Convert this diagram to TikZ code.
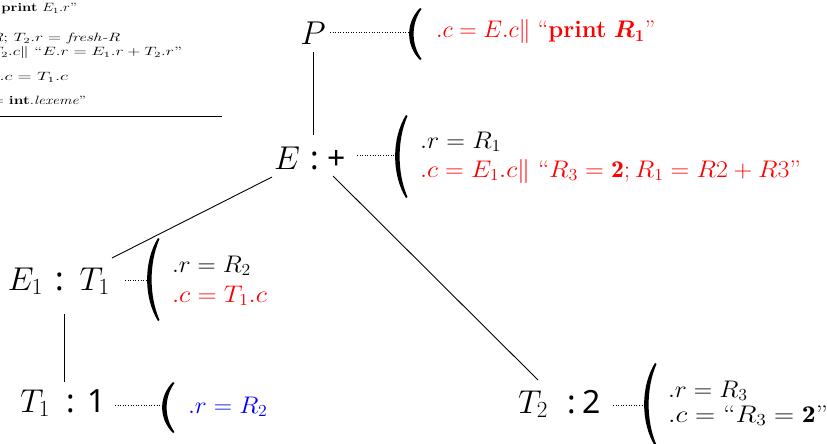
\RequirePackage{fix-cm}
\documentclass[tikz,border=0pt]{standalone}
\usepackage{fontspec}
\usepackage{bm}
\usetikzlibrary{calc}
\newfontfamily\labsans{Noto Sans}
\definecolor{annred}{RGB}{255,0,0}
\definecolor{annblue}{RGB}{0,0,255}
\newcommand{\drawparen}[3]{%
  \fill ({#1+13},{#2}) .. controls ({#1-1.5},{#2+0.28*(#3-#2)}) and ({#1-1.5},{#3-0.28*(#3-#2)}) .. ({#1+13},{#3})
    -- ({#1+14.5},{#3-1}) .. controls ({#1+4},{#3-0.3*(#3-#2)}) and ({#1+4},{#2+0.3*(#3-#2)}) .. ({#1+14.5},{#2+1}) -- cycle;}
\newcommand{\wide}[2]{\scalebox{#1}[1]{#2}}
\tikzset{
  lab/.style={font=\fontsize{33}{37}\selectfont, inner sep=0pt, outer sep=0pt, anchor=base west},
  ann/.style={font=\fontsize{24}{28}\selectfont, inner sep=0pt, outer sep=0pt, anchor=base west},
  tabtxt/.style={font=\fontsize{12}{14}\selectfont, inner sep=0pt, outer sep=0pt, anchor=base east},
  edgeline/.style={line width=0.9pt},
  dotline/.style={line width=0.9pt, dash pattern=on 0.9pt off 1.7pt},
}
\begin{document}
\begin{tikzpicture}[x=1pt,y=-1pt]
\useasboundingbox (0,0) rectangle (827,444);
\clip (0,0) rectangle (827,444);
\fill[white] (0,0) rectangle (827,444);

% cropped table fragment, top left
\node[tabtxt] (tb1) at (77,12) {\wide{1.24}{\textbf{print} $E_1.r$”}};
\node[tabtxt] (tb2) at (120,42) {\wide{1.44}{\textit{R}; $T_2.r =$ \textit{fresh-R}}};
\node[tabtxt] (tb3) at (182,56) {\wide{1.44}{$T_2.c\|$ “$E.r = E_1.r + T_2.r$”}};
\node[tabtxt] (tb4) at (68,81) {\wide{1.55}{$.c = T_1.c$}};
\node[tabtxt] (tb5) at (86,104) {\wide{1.3}{$=$ \textbf{int}.\textit{lexeme}”}};
\coordinate (ruleL) at (-2,116);
\coordinate (ruleR) at (222,116);
\draw[line width=0.9pt] (ruleL) -- (ruleR);

% tree nodes
\node[lab, anchor=base] (P) at (313,45) {$P$};
\node[lab] (E) at (274,169) {$E$\hspace{11pt}{\fontsize{32}{36}\labsans :}\hspace{8pt}{\fontsize{32}{36}\labsans +}};
\node[lab] (E1) at (8,290) {$E_1$\hspace{12pt}{\fontsize{32}{36}\labsans :}\hspace{16pt}$T_1$};
\node[lab] (T1) at (20,412) {$T_1$\hspace{16pt}{\fontsize{32}{36}\labsans :}\hspace{13pt}{\fontsize{32}{36}\labsans 1}};
\node[lab] (T2) at (518,413) {$T_2$\hspace{19pt}{\fontsize{32}{36}\labsans :}\hspace{7pt}{\fontsize{32}{36}\labsans 2}};

% tree edges
\draw[edgeline] ($(P.base)+(0,7)$) -- ($(E.base west)+(39,-34)$);
\draw[edgeline] ($(E.base west)+(-2,8)$) -- ($(E1.base west)+(104,-32)$);
\draw[edgeline] ($(E.base west)+(59,7)$) -- ($(T2.base west)+(20,-33)$);
\draw[edgeline] ($(E1.base west)+(56,24)$) -- ($(T1.base west)+(44,-30)$);

% parentheses
\drawparen{407}{8}{60}
\drawparen{393}{115}{198}
\drawparen{145}{238}{321}
\drawparen{160}{382}{433}
\drawparen{642}{363}{446}
\coordinate (pP) at (409,32);
\coordinate (pE) at (395,155);
\coordinate (pE1) at (147,280);
\coordinate (pT1) at (162,405);
\coordinate (pT2) at (644,405);

% dotted leaders
\draw[dotline] ($(P.base)+(17,-13)$) -- (pP);
\draw[dotline] ($(E.base west)+(83,-14)$) -- (pE);
\draw[dotline] ($(E1.base west)+(117,-10)$) -- (pE1);
\draw[dotline] ($(T1.base west)+(95,-7)$) -- (pT1);
\draw[dotline] ($(T2.base west)+(95,-8)$) -- (pT2);

% annotations
\node[ann, text=annred] (aP) at (436,38) {$.c = E.c\|$ “\textbf{print} $\bm{R_1}$”};
\node[ann] (aE1) at (420,148) {\wide{1.08}{$.r = R_1$}};
\node[ann, text=annred] (aE2) at (420,177) {\wide{1.08}{$.c = E_1.c\|$ “$R_3 = \mathbf{2}; R_1 = R2 + R3$”}};
\node[ann] (aEa) at (172,272) {\wide{1.05}{$.r = R_2$}};
\node[ann, text=annred] (aEb) at (172,302) {\wide{1.1}{$.c = T_1.c$}};
\node[ann, text=annblue] (aT1) at (188,413) {\wide{1.06}{$.r = R_2$}};
\node[ann] (aT2a) at (668,397) {\wide{1.06}{$.r = R_3$}};
\node[ann] (aT2b) at (668,422) {\wide{1.16}{$.c =$ “$R_3 = \mathbf{2}$”}};
\end{tikzpicture}
\end{document}
